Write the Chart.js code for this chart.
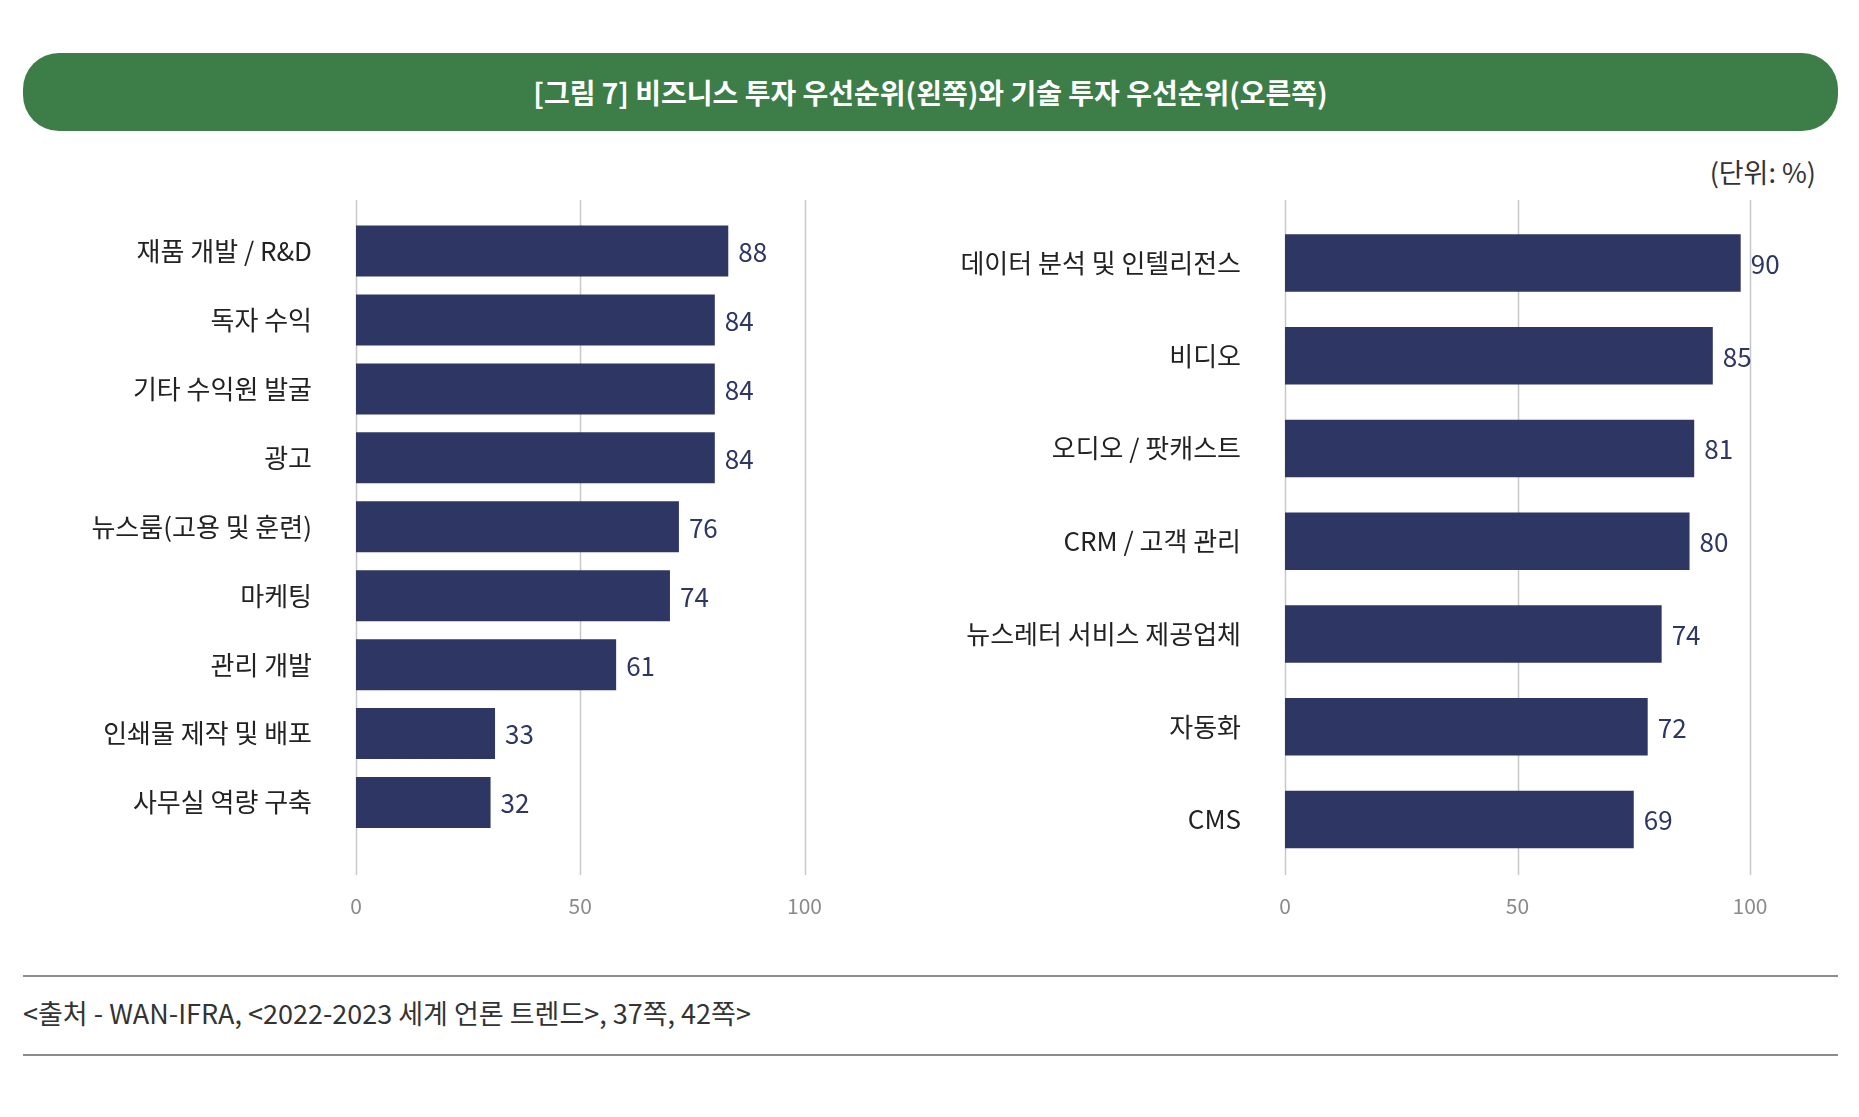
<!DOCTYPE html>
<html>
<head>
<meta charset="utf-8">
<script src="https://cdn.jsdelivr.net/npm/chart.js@4"></script>
<style>
  body { margin: 0; background: #fff; font-family: "Noto Sans CJK KR", "Noto Sans", sans-serif; }
  #wrap { position: relative; width: 1859px; height: 1117px; }
  #title { position: absolute; left: 23px; top: 53px; width: 1815px; height: 78px; background: #3d7d48;
           border-radius: 36px; color: #fff; font-size: 28px; font-weight: bold; text-align: center; line-height: 78px; }
  #unit { position: absolute; right: 43px; top: 152px; font-size: 27px; color: #333; }
  canvas { position: absolute; }
  .rule { position: absolute; left: 23px; width: 1815px; height: 2px; background: #8c8c8c; }
  #src { position: absolute; left: 23px; top: 993px; font-size: 27px; color: #333; }
</style>
</head>
<body>
<div id="wrap">
  <div id="title">[그림 7] 비즈니스 투자 우선순위(왼쪽)와 기술 투자 우선순위(오른쪽)</div>
  <div id="unit">(단위: %)</div>
  <canvas id="leftChart" style="left:0;top:165px"></canvas>
  <canvas id="rightChart" style="left:880px;top:165px"></canvas>
  <div class="rule" style="top:975px"></div>
  <div id="src">&lt;출처 - WAN-IFRA, &lt;2022-2023 세계 언론 트렌드&gt;, 37쪽, 42쪽&gt;</div>
  <div class="rule" style="top:1054px"></div>
</div>
<script>
// left: business investment priorities
const bizLabels = ['재품 개발 / R&D', '독자 수익', '기타 수익원 발굴', '광고', '뉴스룸(고용 및 훈련)', '마케팅', '관리 개발', '인쇄물 제작 및 배포', '사무실 역량 구축'];
const bizBars = [83, 80, 80, 80, 72, 70, 58, 31, 30];
const bizShown = [88, 84, 84, 84, 76, 74, 61, 33, 32];

// right: technology investment priorities
const techLabels = ['데이터 분석 및 인텔리전스', '비디오', '오디오 / 팟캐스트', 'CRM / 고객 관리', '뉴스레터 서비스 제공업체', '자동화', 'CMS'];
const techBars = [98, 92, 88, 87, 81, 78, 75];
const techShown = [90, 85, 81, 80, 74, 72, 69];

const xTicks = [0, 50, 100];
const FONT = '"Noto Sans CJK KR", "Noto Sans", sans-serif';
const BAR = '#2e3764';

// value labels after the bar end + gridlines running past the plot area
const extras = {
  id: 'extras',
  beforeDatasetsDraw(chart) {
    const ctx = chart.ctx, x = chart.scales.x;
    ctx.save();
    ctx.strokeStyle = '#c8c8c8';
    ctx.lineWidth = 1.5;
    xTicks.forEach(v => {
      const px = Math.round(x.getPixelForValue(v)) + 0.5;
      ctx.beginPath();
      ctx.moveTo(px, 35);
      ctx.lineTo(px, 710);
      ctx.stroke();
    });
    ctx.restore();
  },
  afterDatasetsDraw(chart, args, opts) {
    const ctx = chart.ctx;
    ctx.save();
    ctx.font = '26px ' + FONT;
    ctx.fillStyle = BAR;
    ctx.textBaseline = 'middle';
    chart.getDatasetMeta(0).data.forEach((bar, i) => {
      ctx.fillText(String(opts.shown[i]), bar.x + 10, bar.y + 1);
    });
    ctx.restore();
  }
};

function makeChart(id, w, h, labels, bars, shown, yWidth, padRight, padTop, padBottom, tickPad, barPct) {
  const cv = document.getElementById(id);
  cv.width = w; cv.height = h;
  cv.style.width = w + 'px'; cv.style.height = h + 'px';
  return new Chart(cv, {
    type: 'bar',
    data: {
      labels: labels,
      datasets: [{ data: bars, backgroundColor: BAR, barPercentage: barPct, categoryPercentage: 1 }]
    },
    options: {
      indexAxis: 'y',
      responsive: false,
      animation: false,
      layout: { padding: { top: padTop, right: padRight, bottom: 0 } },
      plugins: { legend: { display: false }, tooltip: { enabled: false }, extras: { shown: shown } },
      scales: {
        x: {
          min: 0, max: 100,
          grid: { display: false },
          border: { display: false },
          afterBuildTicks: s => { s.ticks = xTicks.map(v => ({ value: v })); },
          afterFit: s => { s.height = padBottom; },
          ticks: { padding: tickPad, color: '#8a8a8a', font: { family: FONT, size: 21 } }
        },
        y: {
          grid: { display: false },
          border: { display: false },
          afterFit: s => { s.width = yWidth; },
          ticks: { padding: 36, color: '#222', font: { family: FONT, size: 26 } }
        }
      }
    },
    plugins: [extras]
  });
}

makeChart('leftChart', 870, 770, bizLabels, bizBars, bizShown, 356, 24, 29, 98, 48, 0.74);
makeChart('rightChart', 979, 770, techLabels, techBars, techShown, 405, 109, 12, 69, 19, 0.62);
</script>
</body>
</html>
